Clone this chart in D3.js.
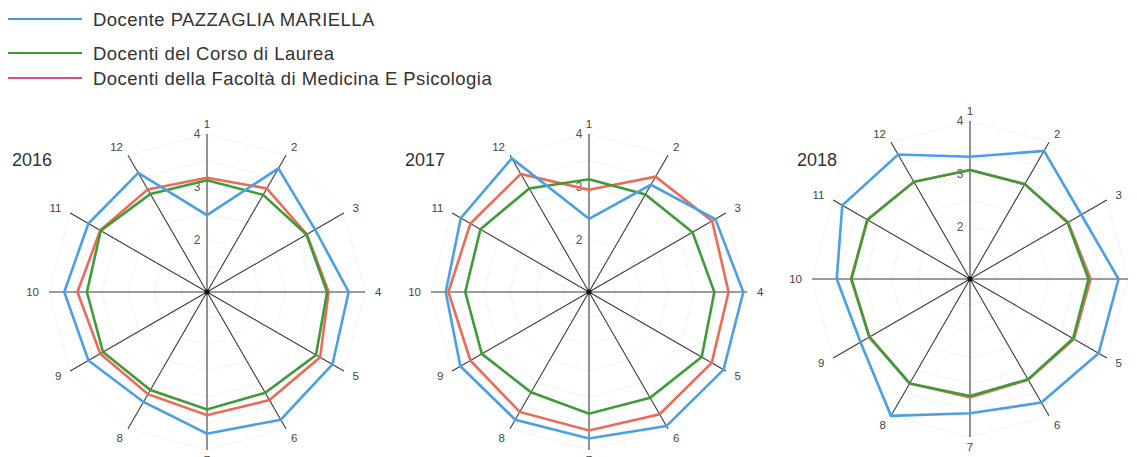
<!DOCTYPE html>
<html lang="it">
<head>
<meta charset="utf-8" />
<title>Radar docenti</title>
<script src="https://cdnjs.cloudflare.com/ajax/libs/d3/7.8.5/d3.min.js"></script>
<style>
body{ margin:0; background:#fff; }
svg{ display:block; font-family:"Liberation Sans", Arial, sans-serif; }
</style>
</head>
<body>
<svg id="chart" width="1137" height="457"></svg>
<script>
// domande 1..12, scala 1-4
const axesLabels = ['1','2','3','4','5','6','7','8','9','10','11','12'];
const years = ['2016','2017','2018'];
const tickValues = [2,3,4];
const seriesNames = ['Docente PAZZAGLIA MARIELLA','Docenti del Corso di Laurea','Docenti della Facoltà di Medicina E Psicologia'];

const docente2016 = [2.46,3.71,3.37,3.69,3.75,3.80,3.69,3.41,3.60,3.71,3.60,3.61];
const cdl2016     = [3.12,3.13,3.18,3.28,3.39,3.21,3.23,3.15,3.28,3.28,3.33,3.15];
const facolta2016 = [3.17,3.27,3.19,3.31,3.48,3.37,3.34,3.24,3.34,3.46,3.34,3.25];

const docente2017 = [2.39,3.35,3.77,3.93,3.95,3.94,3.78,3.80,3.82,3.72,3.81,3.93];
const cdl2017     = [3.14,3.14,3.27,3.38,3.47,3.32,3.31,3.20,3.35,3.35,3.38,3.27];
const facolta2017 = [2.94,3.53,3.70,3.65,3.69,3.68,3.63,3.63,3.60,3.67,3.60,3.59];

const docente2018 = [3.32,3.81,3.44,3.82,3.82,3.71,3.55,4.00,3.40,3.53,3.80,3.73];
const cdl2018     = [3.07,3.08,3.14,3.25,3.26,3.20,3.22,3.29,3.21,3.25,3.25,3.13];
const facolta2018 = [3.07,3.08,3.15,3.29,3.28,3.21,3.25,3.29,3.20,3.26,3.25,3.13];

const seriesByYear = [
  [docente2016, cdl2016, facolta2016],
  [docente2017, cdl2017, facolta2017],
  [docente2018, cdl2018, facolta2018]
];

const lineColors = ['#4a9fe6','#3f9b3a','#ee6a58'];
const legendColors = ['#3f9be6','#3a9b32','#d94b93'];

const svg = d3.select('#chart');

// legenda
const legend = svg.append('g');
const legendY = [19, 53, 78];
seriesNames.forEach((name, i) => {
  legend.append('line')
      .attr('x1', 8).attr('x2', 82)
      .attr('y1', legendY[i]).attr('y2', legendY[i])
      .attr('stroke', legendColors[i])
      .attr('stroke-width', 2);
  legend.append('text')
      .attr('x', 93).attr('y', legendY[i] + 7)
      .attr('font-size', 18.5)
      .attr('letter-spacing', 0.45)
      .attr('fill', '#333')
      .text(name);
});

const R = 158;
const r = d3.scaleLinear().domain([1,4]).range([0,R]);
const angle = d3.scaleLinear().domain([0, axesLabels.length]).range([0, 2*Math.PI]);

const centers = [[207,292],[589,292],[970,279]];
const yearPos = [[12,166],[405,166],[797,166]];

function drawRadar(k){
  const [cx, cy] = centers[k];
  const g = svg.append('g').attr('transform', `translate(${cx},${cy})`);

  // griglia
  d3.range(1.5, 4.01, 0.5).forEach(v => {
    g.append('path')
        .attr('d', d3.lineRadial().angle((d,i) => angle(i)).radius(() => r(v)).curve(d3.curveLinearClosed)(axesLabels))
        .attr('fill', 'none')
        .attr('stroke', '#f3f3f3')
        .attr('stroke-width', 1);
  });

  // assi
  axesLabels.forEach((lab, i) => {
    const a = angle(i);
    g.append('line')
        .attr('x1', 0).attr('y1', 0)
        .attr('x2', R * Math.sin(a)).attr('y2', -R * Math.cos(a))
        .attr('stroke', '#3a3a3a')
        .attr('stroke-width', 1.1);
    const lr = R + 10;
    let lx = lr * Math.sin(a), ly = -lr * Math.cos(a);
    g.append('text')
        .attr('x', lx).attr('y', ly)
        .attr('dy', '0.35em')
        .attr('text-anchor', Math.abs(Math.sin(a)) < 0.1 ? 'middle' : (Math.sin(a) > 0 ? 'start' : 'end'))
        .attr('font-size', 11.5)
        .attr('fill', '#444')
        .text(lab);
  });

  // tick scala
  tickValues.forEach(v => {
    g.append('text')
        .attr('x', -10).attr('y', -r(v))
        .attr('dy', '0.35em')
        .attr('text-anchor', 'middle')
        .attr('font-size', 12)
        .attr('fill', '#555')
        .text(v);
  });

  const radial = d3.lineRadial()
      .angle((d,i) => angle(i))
      .radius(d => r(d))
      .curve(d3.curveLinearClosed);

  // disegno prima facoltà e cdl, poi docente sopra
  [2,1,0].forEach(s => {
    g.append('path')
        .attr('d', radial(seriesByYear[k][s]))
        .attr('fill', 'none')
        .attr('stroke', lineColors[s])
        .attr('stroke-width', 2.6)
        .attr('stroke-linejoin', 'miter');
  });

  g.append('circle').attr('r', 2.5).attr('fill', '#111');

  svg.append('text')
      .attr('x', yearPos[k][0]).attr('y', yearPos[k][1])
      .attr('font-size', 18)
      .attr('fill', '#333')
      .text(years[k]);
}

years.forEach((y, k) => drawRadar(k));
</script>
</body>
</html>
